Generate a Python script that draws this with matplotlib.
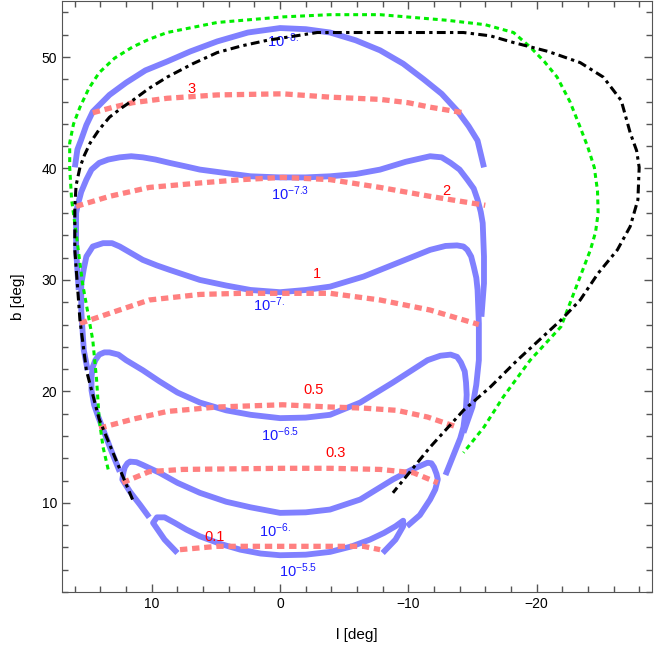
import matplotlib
matplotlib.use("Agg")
import matplotlib.pyplot as plt
from matplotlib.ticker import MultipleLocator

plt.rcParams['font.family'] = ['Liberation Sans', 'DejaVu Sans']
plt.rcParams['mathtext.default'] = 'regular'

# blue contours (l, b in degrees)
blue_labels = ['$10^{-8.}$', '$10^{-7.3}$', '$10^{-7.}$', '$10^{-6.5}$', '$10^{-6.}$', '$10^{-5.5}$']
blue_label_pos = [(-0.2, 51.5), (-0.8, 37.7), (0.9, 27.8), (0.0, 16.1), (0.4, 7.5), (-1.4, 3.9)]

blue_l_a = [16.0, 15.8, 15.5, 15.1, 14.6, 13.3, 12.0, 10.5, 8.8, 7.0, 4.9, 2.5, 0.0, -2.0, -3.9,
            -5.9, -7.8, -9.6, -11.2, -12.6, -13.8, -14.7, -15.4, -15.9]
blue_b_a = [40.1, 41.7, 42.6, 43.9, 45.1, 46.6, 47.7, 48.8, 49.6, 50.5, 51.4, 52.2, 52.6, 52.5, 52.2,
            51.5, 50.6, 49.4, 48.0, 46.7, 45.2, 43.8, 42.5, 40.1]

blue_l_b = [15.7, 15.9, 15.9, 15.8, 15.5, 15.1, 14.7, 14.1, 13.4, 12.5, 11.6, 10.7, 9.7, 8.6, 7.4,
            6.25, 4.3, 2.3, 0.0, -2.0, -3.9, -5.9, -7.8, -9.8, -11.7, -12.6, -13.3, -14.0, -14.6,
            -15.1, -15.4, -15.65, -15.8, -15.9, -15.9, -15.7]
blue_b_b = [29.1, 32.7, 36.0, 36.6, 37.9, 39.0, 39.9, 40.5, 40.8, 41.0, 41.1, 41.0, 40.8, 40.5, 40.2,
            39.9, 39.6, 39.3, 39.2, 39.2, 39.3, 39.5, 39.9, 40.6, 41.1, 41.0, 40.5, 39.9, 39.0,
            38.2, 37.2, 36.1, 35.1, 32.1, 29.7, 26.7]

blue_l_c = [15.0, 15.3, 15.5, 15.5, 15.3, 15.1, 14.6, 13.8, 13.1, 12.5, 11.6, 10.7, 9.6, 8.6, 6.25,
            4.2, 2.3, 0.0, -2.0, -3.9, -6.5, -9.1, -11.7, -12.9, -13.8, -14.3, -14.6, -14.9, -15.1,
            -15.3, -15.4, -15.5, -15.5, -15.3, -15.0, -14.3]
blue_b_c = [21.9, 23.7, 27.3, 29.6, 31.0, 32.1, 33.0, 33.3, 33.3, 33.0, 32.4, 31.8, 31.3, 30.9, 30.0,
            29.5, 29.1, 28.9, 29.1, 29.4, 30.3, 31.5, 32.7, 33.05, 33.1, 33.0, 32.7, 32.1, 31.2,
            30.2, 29.1, 26.1, 22.8, 20.6, 18.6, 16.3]

blue_l_d = [12.5, 13.2, 13.8, 14.2, 14.5, 14.7, 14.7, 14.6, 14.4, 14.1, 13.7, 13.3, 12.6, 12.0, 10.7,
            9.4, 8.0, 6.25, 4.2, 2.3, 0.0, -2.0, -3.9, -6.25, -8.8, -11.5, -12.5, -13.3, -13.8,
            -14.1, -14.4, -14.5, -14.55, -14.5, -14.3, -14.05, -13.7, -12.9]
blue_b_d = [12.8, 14.8, 16.6, 17.8, 18.8, 20.1, 21.3, 22.2, 22.8, 23.3, 23.5, 23.5, 23.3, 22.8, 21.9,
            20.9, 19.9, 19.0, 18.3, 17.9, 17.6, 17.65, 17.9, 19.0, 20.8, 22.8, 23.2, 23.3, 23.1,
            22.6, 21.8, 20.8, 19.7, 18.6, 16.8, 15.8, 14.8, 12.5]

blue_l_e = [10.2, 10.9, 11.7, 12.3, 12.2, 12.1, 11.9, 11.7, 11.2, 10.7, 9.4, 8.0, 6.25, 4.2, 2.3,
            0.0, -2.0, -3.9, -6.25, -8.8, -10.3, -11.5, -11.8, -12.0, -12.2, -12.3, -12.1, -11.7,
            -10.9, -9.9]
blue_b_e = [8.7, 9.8, 11.0, 12.1, 12.8, 13.2, 13.55, 13.7, 13.65, 13.4, 12.7, 11.8, 10.9, 10.1, 9.6,
            9.1, 9.15, 9.4, 10.3, 12.1, 13.0, 13.6, 13.55, 13.2, 12.6, 12.1, 11.2, 10.3,
            8.9, 7.9]

blue_l_f = [8.0, 9.0, 9.9, 9.6, 9.0, 8.2, 7.3, 6.25, 4.6, 3.1, 1.5, 0.0, -2.0, -3.9, -5.6, -7.0,
            -8.1, -9.0, -9.6, -9.6, -9.0, -8.0]
blue_b_f = [5.5, 6.7, 8.2, 8.7, 8.7, 8.2, 7.6, 7.0, 6.3, 5.8, 5.45, 5.3, 5.35, 5.6, 6.1, 6.7,
            7.3, 7.9, 8.4, 7.9, 6.7, 5.5]

# red dashed contours
red_labels = ['3', '2', '1', '0.5', '0.3', '0.1']
red_label_pos = [(6.9, 47.1), (-13.0, 38.0), (-2.9, 30.5), (-2.6, 20.1), (-4.3, 14.5), (5.1, 6.9)]

red_l_3 = [14.6, 13.0, 11.5, 8.8, 4.9, -0.2, -3.9, -7.8, -10.0, -11.7, -14.3]
red_b_3 = [45.0, 45.5, 45.9, 46.3, 46.6, 46.7, 46.4, 46.2, 45.9, 45.5, 45.0]

red_l_2 = [15.9, 13.3, 10.2, 6.25, 3.0, -0.2, -3.9, -7.8, -11.7, -16.0]
red_b_2 = [36.6, 37.5, 38.3, 38.7, 39.0, 39.2, 39.0, 38.3, 37.5, 36.7]

red_l_1 = [15.6, 13.3, 10.2, 6.25, 3.0, -0.2, -3.9, -7.8, -11.7, -15.5]
red_b_1 = [26.1, 27.0, 28.2, 28.7, 28.8, 28.8, 28.8, 28.2, 27.3, 26.0]

red_l_05 = [14.1, 11.5, 8.8, 4.9, -0.2, -3.9, -6.5, -9.1, -11.5, -13.8]
red_b_05 = [16.7, 17.5, 18.2, 18.6, 18.8, 18.6, 18.5, 18.3, 17.7, 16.8]

red_l_03 = [12.3, 10.2, 7.6, -0.2, -3.9, -7.8, -10.4, -12.3]
red_b_03 = [11.8, 12.8, 13.0, 13.1, 13.1, 13.0, 12.7, 11.8]

red_l_01 = [7.8, 4.9, -0.2, -3.9, -6.5, -7.8]
red_b_01 = [5.8, 6.1, 6.1, 6.1, 6.1, 5.8]

# green dotted outline
green_l = [13.4, 13.8, 14.1, 14.3, 14.6, 15.4, 15.9, 16.25, 16.4, 16.4, 16.1, 15.6, 14.9, 14.1,
           12.9, 11.5, 10.2, 8.8, 4.9, -0.2, -3.9, -7.8, -13.0, -16.0, -18.2, -19.5, -20.6, -21.6,
           -22.6, -23.4, -24.0, -24.5, -24.75, -24.8, -24.6, -24.2, -23.2, -21.9, -19.5, -17.4,
           -15.9, -14.3]
green_b = [13.0, 15.0, 17.5, 21.0, 24.6, 29.7, 34.2, 37.2, 40.1, 42.3, 44.0, 45.5, 47.2, 48.6,
           49.9, 50.9, 51.6, 52.2, 53.1, 53.6, 53.8, 53.8, 53.3, 52.9, 52.2, 50.9, 49.6, 48.2,
           46.0, 43.7, 41.9, 40.1, 38.0, 36.0, 34.3, 32.7, 29.7, 25.8, 22.8, 19.5,
           16.8, 14.5]

# black dash-dot outline
black_l = [11.5, 12.7, 14.1, 15.1, 15.6, 16.0, 16.0, 15.9, 15.6, 15.25, 14.8, 14.1, 13.3, 12.4,
           11.5, 10.2, 8.8, 6.8, 4.9, 3.0, 1.0, -2.9, -9.1, -14.3, -16.4, -18.2, -20.9, -23.4,
           -25.2, -26.6, -27.3, -27.8, -28.0, -27.9, -27.3, -26.3, -24.8, -23.4, -21.9, -18.5,
           -16.4, -14.3, -11.7, -8.8]
black_b = [10.3, 13.6, 17.5, 21.9, 26.4, 32.7, 36.6, 38.5, 40.1, 41.2, 42.3, 43.5, 44.6, 45.4,
           46.1, 47.2, 48.2, 49.4, 50.4, 51.0, 51.5, 52.2, 52.2, 52.2, 51.9, 51.3, 50.5, 49.5,
           48.2, 46.1, 43.2, 41.6, 40.1, 37.2, 34.8, 32.7, 30.6, 28.2, 26.4, 22.8,
           20.4, 18.3, 15.0, 10.9]

blue_curves = [(blue_l_a, blue_b_a), (blue_l_b, blue_b_b), (blue_l_c, blue_b_c),
               (blue_l_d, blue_b_d), (blue_l_e, blue_b_e), (blue_l_f, blue_b_f)]
red_curves = [(red_l_3, red_b_3), (red_l_2, red_b_2), (red_l_1, red_b_1),
              (red_l_05, red_b_05), (red_l_03, red_b_03), (red_l_01, red_b_01)]

fig = plt.figure(figsize=(6.71, 6.51), dpi=100)
ax = fig.add_axes([0.0924, 0.0906, 0.8793, 0.9074])

for l, b in blue_curves:
    ax.plot(l, b, color='#8080ff', lw=4.2, solid_capstyle='butt', solid_joinstyle='round', zorder=2)
for l, b in red_curves:
    ax.plot(l, b, color='#ff8080', lw=3.8, linestyle=(0, (1.4, 0.9)), dash_capstyle='butt', zorder=3)

for txt, (x, y) in zip(blue_labels, blue_label_pos):
    ax.text(x, y, txt, color='#1a1aff', fontsize=10.5, ha='center', va='center', zorder=4)
for txt, (x, y) in zip(red_labels, red_label_pos):
    ax.text(x, y, txt, color='#ff0000', fontsize=10.5, ha='center', va='center', zorder=4)

ax.plot(green_l, green_b, color='#00ee00', lw=2.2, linestyle=(0, (1.6, 1.3)), zorder=5)
ax.plot(black_l, black_b, color='black', lw=2.2, linestyle=(0, (2.9, 1.4, 1.1, 1.4)), zorder=6)

ax.set_xlim(17, -29)
ax.set_ylim(2, 55)
ax.xaxis.set_major_locator(MultipleLocator(10))
ax.xaxis.set_minor_locator(MultipleLocator(2))
ax.yaxis.set_major_locator(MultipleLocator(10))
ax.yaxis.set_minor_locator(MultipleLocator(2))
ax.tick_params(which='both', direction='in', top=True, right=True, labelsize=10, color='#555555')
ax.tick_params(which='major', length=6, width=1)
ax.tick_params(which='minor', length=4, width=1)
for s in ax.spines.values():
    s.set_color('#555555')
ax.set_xlabel('l [deg]', fontsize=11, labelpad=12)
ax.set_ylabel('b [deg]', fontsize=11, labelpad=12)

fig.savefig('out.png', dpi=100)
